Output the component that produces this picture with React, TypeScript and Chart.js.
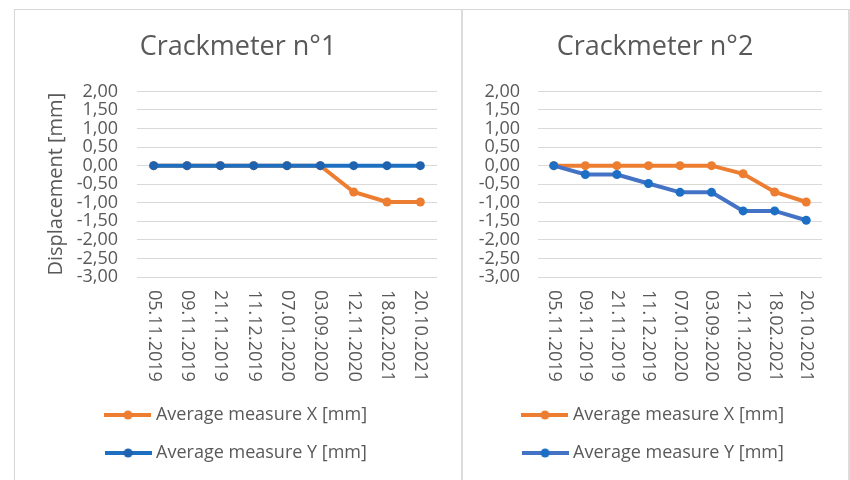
import React, { useEffect, useRef } from 'react';
import { Chart, registerables } from 'chart.js';

Chart.register(...registerables);

// Measurement dates (category axis)
const dates = [
  '05.11.2019',
  '09.11.2019',
  '21.11.2019',
  '11.12.2019',
  '07.01.2020',
  '03.09.2020',
  '12.11.2020',
  '18.02.2021',
  '20.10.2021',
];

// Crackmeter n°1 readings [mm]
const crack1X = [0, 0, 0, 0, 0, 0, -0.71, -0.98, -0.98];
const crack1Y = [0, 0, 0, 0, 0, 0, 0, 0, 0];

// Crackmeter n°2 readings [mm]
const crack2X = [0, 0, 0, 0, 0, 0, -0.22, -0.71, -0.98];
const crack2Y = [0, -0.24, -0.24, -0.48, -0.72, -0.72, -1.22, -1.22, -1.47];

const seriesNames = ['Average measure X [mm]', 'Average measure Y [mm]'];
const yAxisTitle = 'Displacement [mm]';
const yMin = -3;
const yMax = 2;
const yStep = 0.5;

const FONT = "'Open Sans', sans-serif";
const TEXT = '#595959';
const GRID = '#d9d9d9';
const ORANGE = '#ED7D31';

function legendIcon(line: string, dot: string): HTMLCanvasElement {
  const c = document.createElement('canvas');
  c.width = 47;
  c.height = 12;
  const g = c.getContext('2d')!;
  g.strokeStyle = line;
  g.lineWidth = 4;
  g.beginPath();
  g.moveTo(0, 6);
  g.lineTo(47, 6);
  g.stroke();
  g.fillStyle = dot;
  g.beginPath();
  g.arc(23.5, 6, 4.5, 0, Math.PI * 2);
  g.fill();
  return c;
}

// Category labels written top-to-bottom under each point
const dateLabels = {
  id: 'dateLabels',
  afterDraw(chart: any) {
    const { ctx, chartArea, scales } = chart;
    const xs = scales.x;
    ctx.save();
    ctx.font = `18px ${FONT}`;
    ctx.fillStyle = TEXT;
    ctx.textAlign = 'left';
    ctx.textBaseline = 'middle';
    (chart.data.labels as string[]).forEach((lab, i) => {
      ctx.save();
      ctx.translate(xs.getPixelForValue(i), chartArea.bottom + 13);
      ctx.rotate(Math.PI / 2);
      ctx.fillText(lab, 0, 0);
      ctx.restore();
    });
    ctx.restore();
  },
};

type PanelProps = {
  title: string;
  xData: number[];
  yData: number[];
  yLine: string;
  yDot: string;
  showYTitle: boolean;
  width: number;
  height: number;
  yWidth: number;
  yPad: number;
  rightWidth: number;
};

function Panel(p: PanelProps) {
  const ref = useRef<HTMLCanvasElement | null>(null);

  useEffect(() => {
    if (!ref.current) return;
    const icons = [legendIcon(ORANGE, ORANGE), legendIcon(p.yLine, p.yDot)];
    const lineStyle = {
      borderWidth: 4,
      pointRadius: 4.5,
      pointBorderWidth: 0,
      tension: 0,
      yAxisID: 'y',
    };
    const chart = new Chart(ref.current, {
      type: 'line',
      data: {
        labels: dates,
        datasets: [
          {
            label: seriesNames[0],
            data: p.xData,
            borderColor: ORANGE,
            backgroundColor: ORANGE,
            pointBackgroundColor: ORANGE,
            order: 1,
            ...lineStyle,
          },
          {
            label: seriesNames[1],
            data: p.yData,
            borderColor: p.yLine,
            backgroundColor: p.yDot,
            pointBackgroundColor: p.yDot,
            order: 0,
            ...lineStyle,
          },
        ],
      },
      options: {
        responsive: false,
        animation: false,
        events: [],
        layout: { padding: { top: 0, left: 0, right: 0, bottom: 6 } },
        scales: {
          x: {
            type: 'category',
            offset: true,
            grid: { display: false },
            border: { display: false },
            ticks: { display: false },
            afterFit: (s: any) => {
              s.height = 109;
            },
          },
          y: {
            type: 'linear',
            position: 'left',
            min: yMin,
            max: yMax,
            grid: { color: GRID, lineWidth: 1, drawTicks: false },
            border: { display: false },
            ticks: {
              stepSize: yStep,
              autoSkip: false,
              padding: p.yPad,
              color: TEXT,
              font: { family: FONT, size: 18, lineHeight: 1 },
              callback: (v: any) => Number(v).toFixed(2).replace('.', ','),
            },
            title: {
              display: p.showYTitle,
              text: yAxisTitle,
              color: TEXT,
              font: { family: FONT, size: 20 },
              padding: { top: 29, bottom: 0 },
            },
            afterFit: (s: any) => {
              s.width = p.yWidth;
            },
          },
          pad: {
            type: 'linear',
            position: 'right',
            display: true,
            grid: { display: false },
            border: { display: false },
            ticks: { display: false },
            afterFit: (s: any) => {
              s.width = p.rightWidth;
            },
          },
        },
        plugins: {
          title: {
            display: true,
            text: p.title,
            color: TEXT,
            font: { family: FONT, size: 27, weight: 'normal' },
            padding: { top: 21, bottom: 28 },
          },
          legend: {
            position: 'bottom',
            labels: {
              color: TEXT,
              font: { family: FONT, size: 18 },
              usePointStyle: true,
              pointStyleWidth: 38,
              padding: 20,
              sort: (a: any, b: any) => a.datasetIndex - b.datasetIndex,
              generateLabels: (c: any) =>
                Chart.defaults.plugins.legend.labels
                  .generateLabels(c)
                  .map((l: any) => ({ ...l, pointStyle: icons[l.datasetIndex] })),
            },
          },
          tooltip: { enabled: false },
        },
      } as any,
      plugins: [dateLabels],
    });
    return () => chart.destroy();
  }, []);

  return <canvas ref={ref} width={p.width} height={p.height} style={{ display: 'block' }} />;
}

export default function App() {
  return (
    <div
      style={{
        position: 'fixed',
        left: 0,
        top: 0,
        width: 850,
        height: 480,
        background: '#ffffff',
        overflow: 'hidden',
      }}
    >
      <div
        style={{
          position: 'absolute',
          left: 14,
          top: 9,
          width: 833,
          height: 480,
          borderLeft: '1px solid #d6d6d6',
          borderTop: '1px solid #d6d6d6',
          borderRight: '2px solid #dcdcdc',
        }}
      />
      <div
        style={{
          position: 'absolute',
          left: 461,
          top: 9,
          width: 2,
          height: 480,
          background: '#dcdcdc',
        }}
      />
      <div style={{ position: 'absolute', left: 15, top: 10 }}>
        <Panel
          title="Crackmeter n°1"
          xData={crack1X}
          yData={crack1Y}
          yLine="#1C6FC1"
          yDot="#1F62B0"
          showYTitle={true}
          width={446}
          height={468}
          yWidth={122}
          yPad={19}
          rightWidth={24}
        />
      </div>
      <div style={{ position: 'absolute', left: 463, top: 10 }}>
        <Panel
          title="Crackmeter n°2"
          xData={crack2X}
          yData={crack2Y}
          yLine="#4472C4"
          yDot="#1D6FC6"
          showYTitle={false}
          width={384}
          height={468}
          yWidth={75}
          yPad={18}
          rightWidth={25}
        />
      </div>
    </div>
  );
}
